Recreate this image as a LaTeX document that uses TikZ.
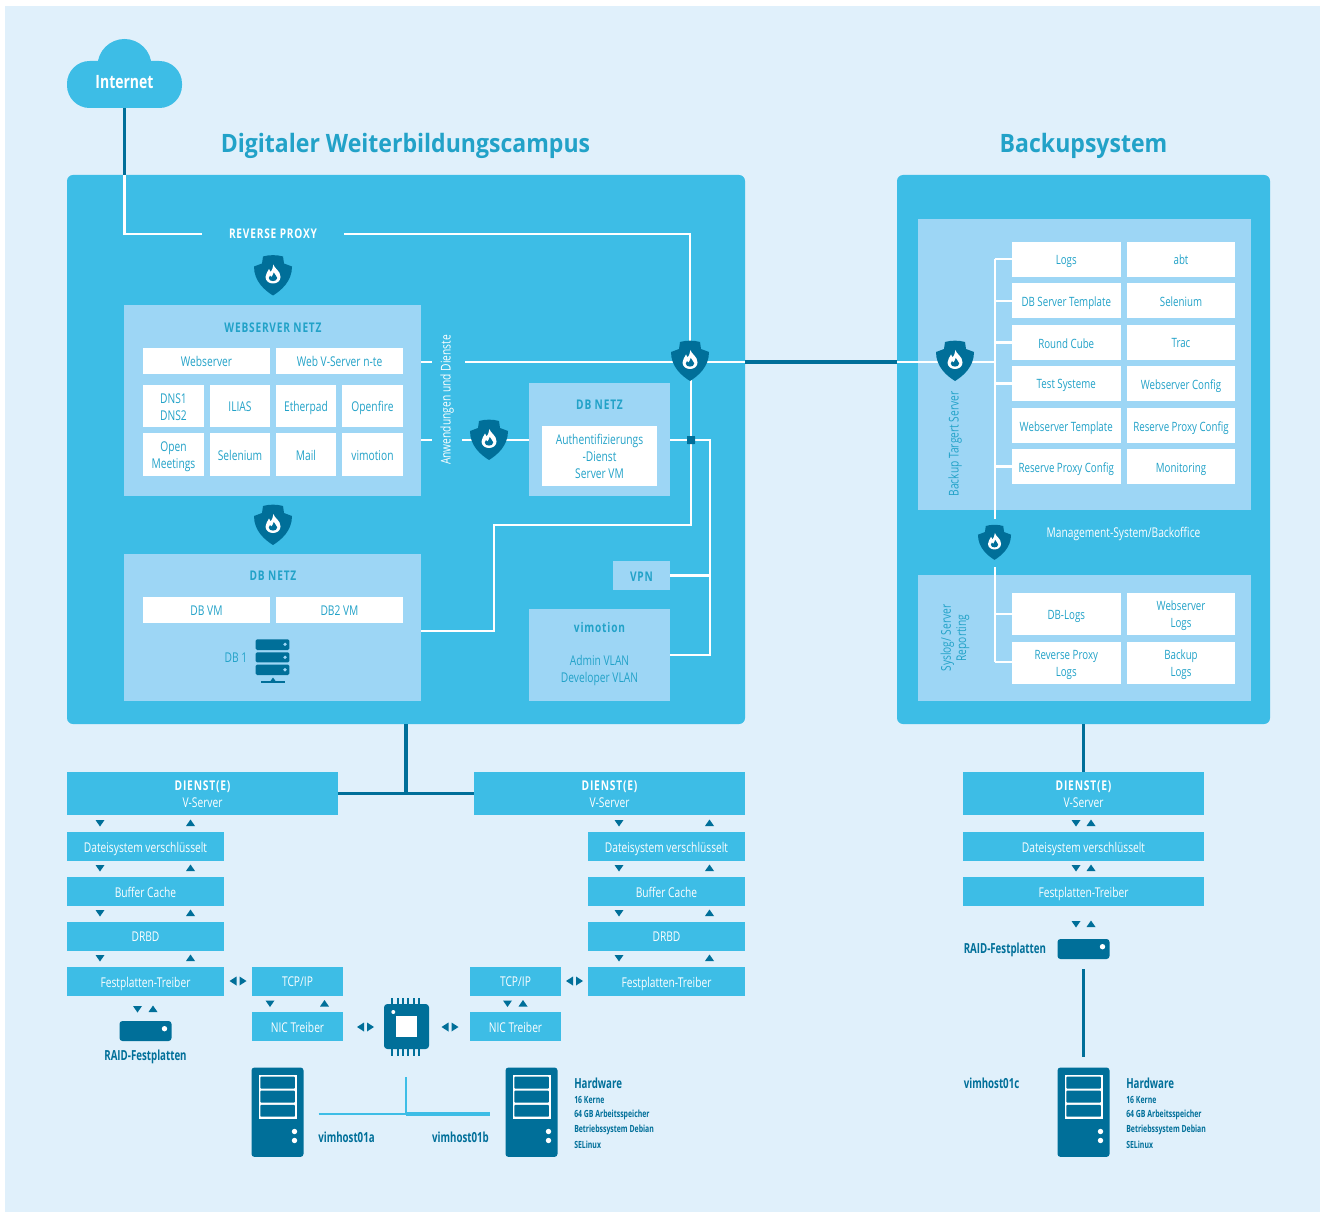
\documentclass[tikz,border=0pt]{standalone}
\usepackage{fontspec}
\setmainfont[FakeStretch=0.76]{Open Sans}
\newfontfamily\titlefont[FakeStretch=0.91]{Open Sans}
\newfontfamily\headfont[FakeStretch=0.76,LetterSpace=6]{Open Sans}
\newfontfamily\darkfont[FakeStretch=0.70]{Open Sans}
\definecolor{bgc}{HTML}{E0F0FB}
\definecolor{mainc}{HTML}{3DBDE6}
\definecolor{lightc}{HTML}{9DD6F5}
\definecolor{darkc}{HTML}{006F99}
\definecolor{tealc}{HTML}{22A2C8}
\newcommand\fs[2]{\fontsize{#1}{#2}\selectfont}
\tikzset{
  panel/.style={fill=mainc,rounded corners=4.5pt,inner sep=0pt,outer sep=0pt},
  zone/.style={fill=lightc,inner sep=0pt,outer sep=0pt,align=center,text=tealc,font=\fs{10.1}{12.75}},
  cell/.style={fill=white,inner sep=0pt,outer sep=0pt,align=center,text=tealc,font=\fs{10.1}{12.75}},
  bcell/.style={cell,font=\fs{9.6}{12.75}},
  layer/.style={fill=mainc,inner sep=0pt,outer sep=0pt,align=center,text=white,font=\fs{10.1}{12.75}},
  gap/.style={inner sep=0pt,outer sep=0pt},
  wline/.style={draw=white,line width=1.7pt},
  dline/.style={draw=darkc,line width=2.4pt},
  tline/.style={draw=mainc,line width=2pt},
  head/.style={font=\headfont\fs{10}{12.75}\bfseries,text=tealc},
  wlabel/.style={font=\fs{10.1}{12.75},text=white,align=center},
  tlabel/.style={font=\fs{10.1}{12.75},text=tealc,align=center},
  dlabel/.style={font=\darkfont\fs{10.4}{12}\bfseries,text=darkc,inner sep=0pt},
  dsmall/.style={font=\darkfont\fs{7.4}{11.25}\bfseries,text=darkc,inner sep=0pt,anchor=west},
  ttl/.style={font=\titlefont\fs{19}{24}\bfseries,text=tealc},
  firewall/.pic={
    \fill[darkc] (-10,-19) .. controls (-4,-20.8) and (4,-20.8) .. (10,-19) -- (11,-12) -- (19,-9)
      .. controls (19,6) and (8,15) .. (0,20) .. controls (-8,15) and (-19,6) .. (-19,-9) -- (-11,-12) -- cycle;
    \fill[white] (0.5,-11) .. controls (1,-7) and (7.5,-5) .. (7.5,1.5) .. controls (7.5,5.5) and (4,8) .. (0,8)
      .. controls (-4,8) and (-7.5,5.5) .. (-7.5,1.5) .. controls (-7.5,-2) and (-5,-3.5) .. (-4,-6.5)
      .. controls (-3,-5.5) and (-2.5,-4.5) .. (-2.3,-3.5) .. controls (-1,-5) and (0,-8) .. (0.5,-11) -- cycle;
    \fill[darkc] (0.8,-3) .. controls (1.5,-0.5) and (4.2,0.5) .. (4.2,2.5) .. controls (4.2,4.6) and (2,5.6) .. (0,5.6)
      .. controls (-2.2,5.6) and (-4.2,4.6) .. (-4.2,2.6) .. controls (-4.2,1.6) and (-3.4,0.8) .. (-3,0)
      .. controls (-2.4,0.6) and (-2,1) .. (-1.6,1.6) .. controls (-0.8,0.6) and (0.2,-1) .. (0.8,-3) -- cycle;
  },
  serverpic/.pic={
    \fill[darkc,rounded corners=2.2pt] (0,0) rectangle (52,89.4);
    \fill[white] (7,7) rectangle (45,51);
    \fill[darkc,rounded corners=0.6pt] (8.8,9.2) rectangle (43.4,21);
    \fill[darkc,rounded corners=0.6pt] (8.8,23.2) rectangle (43.4,35);
    \fill[darkc,rounded corners=0.6pt] (8.8,37.4) rectangle (43.4,49.2);
    \fill[white] (43,64) circle[radius=2.7];
    \fill[white] (43,73) circle[radius=2.7];
  },
  diskpic/.pic={
    \fill[darkc,rounded corners=2.2pt] (0,0) rectangle (52,20);
    \fill[white] (45,7.7) circle[radius=2.7];
  },
}
\newcommand\bx[7][]{\node[#1,minimum width={(#5-#3)*0.75pt},minimum height={(#6-#4)*0.75pt}] (#2) at ({(#3+#5)/2},{(#4+#6)/2}) {};
  \if\relax\detokenize{#7}\relax\else\node[#1,fill=none,yshift=-1.8pt] (#2t) at (#2.center) {\vphantom{Ag}#7\vphantom{Ag}};\fi}
\newcommand\tdn[2]{\fill[darkc] (#1-4.5,#2-3) -- (#1+4.5,#2-3) -- (#1,#2+3.5) -- cycle;}
\newcommand\tup[2]{\fill[darkc] (#1-4.5,#2+3) -- (#1+4.5,#2+3) -- (#1,#2-3.5) -- cycle;}
\newcommand\lr[2]{\fill[darkc] (#1-1.5,#2-4.5) -- (#1-1.5,#2+4.5) -- (#1-8.5,#2) -- cycle;
  \fill[darkc] (#1+1.5,#2-4.5) -- (#1+1.5,#2+4.5) -- (#1+8.5,#2) -- cycle;}
\newcommand\fw[3]{\node[gap,minimum width=28.5pt,minimum height=30pt] (#1) at (#2,#3) {};}
\begin{document}
\begin{tikzpicture}[x=0.75pt,y=-0.75pt]
\useasboundingbox (0,0) rectangle (1320,1212);
\fill[bgc] (5,6) rectangle (1320,1212);

% cloud
\fill[mainc] (124.5,66) circle[radius=27];
\fill[mainc,rounded corners=17pt] (67,61) rectangle (182,108);
\bx[gap]{cloud}{67}{39}{182}{108}{}
\node[font=\fs{13.8}{15}\bfseries,text=white] (inet) at (124.5,82) {Internet};

% titles
\node[ttl] (t1) at (405.5,146) {Digitaler Weiterbildungscampus};
\node[ttl] (t2) at (1083.5,146) {Backupsystem};

% panels
\bx[panel]{pa}{67}{175}{745}{724}{}
\bx[panel]{pb}{897}{175}{1270}{724}{}

% reverse proxy
\node[font=\headfont\fs{10}{12}\bfseries,text=white,minimum width=106.5pt,inner sep=0pt,outer sep=0pt] (rp) at (273,234) {REVERSE PROXY};

% main panel zones
\bx[zone]{web}{124}{305}{421}{496}{}
\node[head] (webh) at (273,327.5) {WEBSERVER NETZ};
\bx[zone]{dbn1}{529}{383}{670}{496}{}
\node[head] (dbh1) at (599.5,405) {DB NETZ};
\bx[zone]{dbn2}{124}{554}{421}{701}{}
\node[head] (dbh2) at (273,576) {DB NETZ};
\bx[zone,font=\headfont\fs{10}{12.75}\bfseries]{vpn}{613}{561}{670}{590}{VPN}
\bx[zone]{vim}{529}{609}{670}{701}{}
\node[head] (vimh) at (599.5,627) {vimotion};
\node[tlabel] (vimt) at (599.5,670.7) {Admin VLAN\\Developer VLAN};
\bx[cell]{auth}{542}{426}{657}{486}{Authentifizierungs\\-Dienst\\Server VM}

% web cells
\bx[cell]{c1}{143}{348}{270}{374}{Webserver}
\bx[cell]{c2}{276}{348}{403}{374}{Web V-Server n-te}
\bx[cell]{c3}{143}{385}{204}{427}{DNS1\\DNS2}
\bx[cell]{c4}{210}{385}{270}{427}{ILIAS}
\bx[cell]{c5}{276}{385}{336}{427}{Etherpad}
\bx[cell]{c6}{342}{385}{403}{427}{Openfire}
\bx[cell]{c7}{143}{433}{204}{476}{Open\\Meetings}
\bx[cell]{c8}{210}{433}{270}{476}{Selenium}
\bx[cell]{c9}{276}{433}{336}{476}{Mail}
\bx[cell]{c10}{342}{433}{403}{476}{vimotion}
\bx[cell]{d1}{143}{597}{270}{623}{DB VM}
\bx[cell]{d2}{276}{597}{403}{623}{DB2 VM}
\node[tlabel] (db1) at (236,658) {DB 1};
% database icon
\foreach \yy/\hh in {639.3/10.7,652.3/10,664.7/10.3}{
  \fill[darkc,rounded corners=1pt] (255.7,\yy) rectangle (289.3,\yy+\hh);
  \fill[lightc] (285,\yy+5) circle[radius=1.8];
}
\fill[darkc] (261,680.8) rectangle (285,682.6);
\fill[darkc] (270.5,681) -- (273,677.5) -- (275.5,681) -- cycle;

\node[wlabel,rotate=90] (anw) at (447,400) {Anwendungen und Dienste};

% backup zones
\bx[zone]{bz1}{918}{219}{1251}{510}{}
\bx[zone]{bz2}{918}{575}{1251}{701}{}
\node[tlabel,rotate=90] (btl) at (955,444) {Backup Targert Server};
\node[tlabel,rotate=90,font=\fs{10.1}{11.5}] (syl) at (955,638) {Syslog/ Server\\Reporting};
\node[wlabel] (mgm) at (1123.5,533.5) {Management-System/Backoffice};
\bx[bcell]{b1}{1012}{241.7}{1120.5}{276.7}{Logs}
\bx[bcell]{b2}{1127}{241.7}{1235}{276.7}{abt}
\bx[bcell]{b3}{1012}{283}{1120.5}{318.5}{DB Server Template}
\bx[bcell]{b4}{1127}{283}{1235}{318.5}{Selenium}
\bx[bcell]{b5}{1012}{325}{1120.5}{360}{Round Cube}
\bx[bcell]{b6}{1127}{325}{1235}{360}{Trac}
\bx[bcell]{b7}{1012}{366}{1120.5}{401}{Test Systeme}
\bx[bcell]{b8}{1127}{366}{1235}{401}{Webserver Config}
\bx[bcell]{b9}{1012}{408}{1120.5}{443}{Webserver Template}
\bx[bcell]{b10}{1127}{408}{1235}{443}{Reserve Proxy Config}
\bx[bcell]{b11}{1012}{449}{1120.5}{484}{Reserve Proxy Config}
\bx[bcell]{b12}{1127}{449}{1235}{484}{Monitoring}
\bx[bcell]{s1}{1012}{592.5}{1120.5}{635}{DB-Logs}
\bx[bcell]{s2}{1127}{592.5}{1235}{635}{Webserver\\Logs}
\bx[bcell]{s3}{1012}{641.5}{1120.5}{684}{Reverse Proxy\\Logs}
\bx[bcell]{s4}{1127}{641.5}{1235}{684}{Backup\\Logs}

% lower stacks
\bx[layer]{dl}{67}{772}{338}{815}{{\headfont\bfseries DIENST(E)}\\V-Server}
\bx[layer]{l1}{67}{831.5}{224}{861}{Dateisystem verschlüsselt}
\bx[layer]{l2}{67}{876.5}{224}{906}{Buffer Cache}
\bx[layer]{l3}{67}{921.5}{224}{951}{DRBD}
\bx[layer]{l4}{67}{966.5}{224}{996}{Festplatten-Treiber}
\bx[layer]{tl}{252}{966.5}{343}{996}{TCP/IP}
\bx[layer]{nl}{252}{1011.5}{343}{1041}{NIC Treiber}
\bx[layer]{dm}{474}{772}{745}{815}{{\headfont\bfseries DIENST(E)}\\V-Server}
\bx[layer]{m1}{588}{831.5}{745}{861}{Dateisystem verschlüsselt}
\bx[layer]{m2}{588}{876.5}{745}{906}{Buffer Cache}
\bx[layer]{m3}{588}{921.5}{745}{951}{DRBD}
\bx[layer]{m4}{588}{966.5}{745}{996}{Festplatten-Treiber}
\bx[layer]{tr}{470}{966.5}{561}{996}{TCP/IP}
\bx[layer]{nr}{470}{1011.5}{561}{1041}{NIC Treiber}
\bx[layer]{dr}{963}{772}{1204}{815}{{\headfont\bfseries DIENST(E)}\\V-Server}
\bx[layer]{r1}{963}{831.5}{1204}{861}{Dateisystem verschlüsselt}
\bx[layer]{r2}{963}{876.5}{1204}{906}{Festplatten-Treiber}

% triangles
\foreach \yy in {823,868,913,958}{
  \tdn{100}{\yy} \tup{190.5}{\yy}
  \tdn{619}{\yy} \tup{709.5}{\yy}
}
\foreach \yy in {823,868,924}{ \tdn{1076}{\yy} \tup{1091}{\yy} }
\tdn{137.5}{1009} \tup{153}{1009}
\tdn{270}{1003.5} \tup{324.5}{1003.5}
\tdn{507.5}{1003.5} \tup{523}{1003.5}
\lr{238}{981} \lr{574.5}{981} \lr{365.5}{1027} \lr{450}{1027}

% chip
\node[gap,minimum width=33.75pt,minimum height=33.75pt] (chip) at (406.5,1026.5) {};
\foreach \xx in {392.3,397.7,403,408.3,413.7,419}{
  \draw[darkc,line width=1.3pt] (\xx,998) -- (\xx,1056);
}
\fill[darkc,rounded corners=2.5pt] (384,1004) rectangle (429,1049);
\fill[white] (396,1016) rectangle (417,1037);
\fill[white] (393.3,1012) circle[radius=2];

% disks and servers
\bx[gap]{dk1}{119.5}{1021}{171.5}{1041}{}
\pic at (dk1.north west) {diskpic};
\bx[gap]{dk3}{1057.5}{939}{1109.5}{959}{}
\pic at (dk3.north west) {diskpic};
\bx[gap]{sv1}{251.5}{1067.5}{303.5}{1157}{}
\pic at (sv1.north west) {serverpic};
\bx[gap]{sv2}{505.5}{1067.5}{557.5}{1157}{}
\pic at (sv2.north west) {serverpic};
\bx[gap]{sv3}{1057.5}{1067.5}{1109.5}{1157}{}
\pic at (sv3.north west) {serverpic};

% dark labels
\node[dlabel] (raid1) at (145.5,1057) {RAID-Festplatten};
\node[dlabel,anchor=west] (raid3) at (963.5,949.5) {RAID-Festplatten};
\node[dlabel] (va) at (346.5,1137.5) {vimhost01a};
\node[dlabel] (vb) at (460.5,1137.5) {vimhost01b};
\node[dlabel,anchor=west] (vc) at (963.5,1083) {vimhost01c};
\node[dlabel,anchor=west] (hw1) at (574,1083.5) {Hardware};
\node[dsmall] (hw1a) at (574,1099.5) {16 Kerne};
\node[dsmall] (hw1b) at (574,1114.5) {64 GB Arbeitsspeicher};
\node[dsmall] (hw1c) at (574,1129.5) {Betriebssystem Debian};
\node[dsmall] (hw1d) at (574,1144.5) {SELinux};
\node[dlabel,anchor=west] (hw2) at (1126,1083.5) {Hardware};
\node[dsmall] (hw2a) at (1126,1099.5) {16 Kerne};
\node[dsmall] (hw2b) at (1126,1114.5) {64 GB Arbeitsspeicher};
\node[dsmall] (hw2c) at (1126,1129.5) {Betriebssystem Debian};
\node[dsmall] (hw2d) at (1126,1144.5) {SELinux};

% firewall anchors
\fw{fw1}{273}{275.5}
\fw{fw2}{273}{525}
\fw{fwa}{690}{361}
\fw{fwb}{489}{440}
\fw{fwc}{955}{361}
\node[gap,minimum width=25pt,minimum height=26.25pt] (fwd) at (994.5,542.5) {};

% junction coordinates
\coordinate (j1) at (124.5,175);
\coordinate (k1) at (124.5,234);
\coordinate (k2) at (690,234);
\coordinate (anwl) at (432,362);
\coordinate (anwr) at (465,362);
\coordinate (anwl2) at (432,440);
\coordinate (anwr2) at (462,440);
\coordinate (k3) at (710,440);
\coordinate (k4) at (691,525);
\coordinate (k5) at (494,525);
\coordinate (k6) at (494,631);
\coordinate (fwab) at (691,375);
\coordinate (bustop) at (995,258);
\coordinate (busbot) at (995,519);
\coordinate (bus2top) at (995,567);
\coordinate (bus2bot) at (995,662);
\coordinate (lan) at (406,1114);
\coordinate (lantop) at (406,1077);
\coordinate (lanl) at (318.5,1114);
\coordinate (lanr) at (490,1114);
\coordinate (dkt) at (1083.5,969);
\coordinate (dkb) at (1083.5,1056.7);
\node[fill=darkc,inner sep=0pt,minimum size=5.6pt] (sq) at (691,440) {};

% connectors
\draw[dline] (cloud.south) -- (j1);
\draw[wline] (j1) -- (k1) -- (rp.west |- k1);
\draw[wline] (rp.east) -- (k2) -- (fwa.center);
\draw[wline] (web.east |- anwl) -- (anwl);
\draw[wline] (anwr) -- (fwa.center |- anwr);
\draw[wline] (web.east |- anwl2) -- (anwl2);
\draw[wline] (anwr2) -- (dbn1.west |- anwr2);
\draw[wline] (dbn1.east |- sq) -- (sq.center) -- (k3) -- (k3 |- vim.east) -- (vim.east);
\draw[wline] (vpn.east) -- (k3 |- vpn.east);
\draw[wline] (fwab) -- (k4) -- (k5) -- (k6) -- (dbn2.east |- k6);
\draw[wline] (fwa.center |- anwr) -- (pa.east |- anwr);
\draw[dline] (pa.east |- anwr) -- (pb.west |- anwr);
\draw[wline] (pb.west |- anwr) -- (bustop |- anwr);
\draw[wline,line width=2.2pt] (bustop |- b1.west) -- (busbot);
\foreach \cc in {b1,b3,b5,b7,b11}{ \draw[wline] (bustop |- \cc.west) -- (\cc.west); }
\draw[wline,line width=2.2pt] (bus2top) -- (bus2bot);
\draw[wline] (bus2bot) -- (s3.west |- bus2bot);
\draw[wline] (bus2top |- s1.west) -- (s1.west);
\draw[dline] (pa.south) -- (pa.south |- dl.east);
\draw[dline,line width=1.8pt] (dl.east) -- (pa.south |- dl.east);
\draw[dline] (pa.south |- dm.west) -- (dm.west);
\draw[dline] (pb.south) -- (dr.north);
\draw[dline] (dkt) -- (dkb);
\draw[tline] (lantop) -- (lan);
\draw[tline,line width=1.6pt] (lanl) -- (lan);
\draw[tline,line width=2.4pt] (lan) -- (lanr);

% small dark junction and firewalls
\fill[darkc,rounded corners=0.5pt] (sq.south west) rectangle (sq.north east);
\pic at (fw1) {firewall};
\pic at (fw2) {firewall};
\pic at (fwa) {firewall};
\pic at (fwb) {firewall};
\pic at (fwc) {firewall};
\pic[scale=0.87] at (fwd) {firewall};
\end{tikzpicture}
\end{document}
